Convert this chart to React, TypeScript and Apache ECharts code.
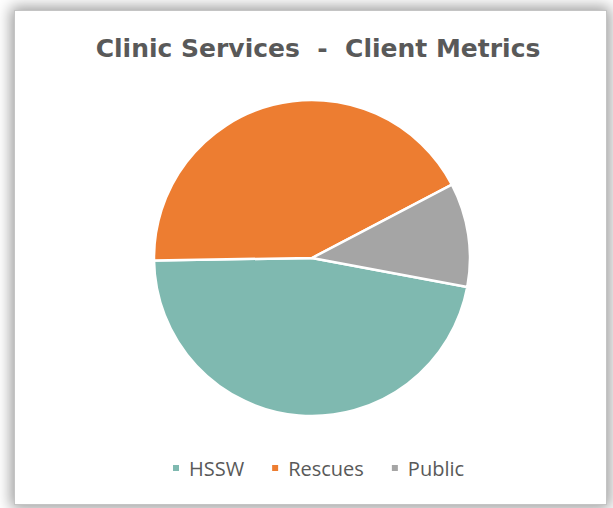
import React, { useEffect, useRef } from "react";
import * as echarts from "echarts";

const titleText = "Clinic Services  -  Client Metrics";
const categories = ["HSSW", "Rescues", "Public"];
const values = [44, 40, 10];
const colors = ["#7FB9B0", "#ED7D31", "#A5A5A5"];

export default function App() {
  const ref = useRef<HTMLDivElement>(null);
  useEffect(() => {
    if (!ref.current) return;
    const chart = echarts.init(ref.current, null, { renderer: "svg" });
    chart.setOption({
      animation: false,
      title: {
        text: titleText,
        left: 313,
        top: 31,
        textAlign: "center",
        textStyle: {
          fontFamily: "DejaVu Sans",
          fontWeight: "bold",
          fontSize: 25,
          color: "#595959",
        },
      },
      legend: {
        data: categories,
        left: 166,
        top: 453,
        itemWidth: 8,
        itemHeight: 8,
        itemGap: 26,
        icon: "rect",
        textStyle: {
          fontFamily: "Open Sans",
          fontSize: 20,
          color: "#595959",
          padding: [0, 0, 0, 4],
        },
      },
      series: [
        {
          type: "pie",
          center: [312, 258],
          radius: 158,
          startAngle: -10.6,
          clockwise: true,
          label: { show: false },
          labelLine: { show: false },
          itemStyle: { borderColor: "#ffffff", borderWidth: 2.5 },
          emphasis: { disabled: true },
          data: categories.map((c, i) => ({
            name: c,
            value: values[i],
            itemStyle: { color: colors[i] },
          })),
        },
      ],
    });
    return () => chart.dispose();
  }, []);
  return (
    <div
      style={{
        position: "fixed",
        left: 0,
        top: 0,
        width: 613,
        height: 508,
        background: "#ffffff",
        overflow: "hidden",
      }}
    >
      <div
        style={{
          position: "absolute",
          left: 14,
          top: 10,
          width: 593,
          height: 495,
          border: "1px solid #c4c4c4",
          boxSizing: "border-box",
          background: "#ffffff",
          boxShadow: "0 0 14px 3px rgba(0,0,0,0.4)",
        }}
      />
      <div
        ref={ref}
        style={{ position: "absolute", left: 0, top: 0, width: 613, height: 508 }}
      />
    </div>
  );
}
